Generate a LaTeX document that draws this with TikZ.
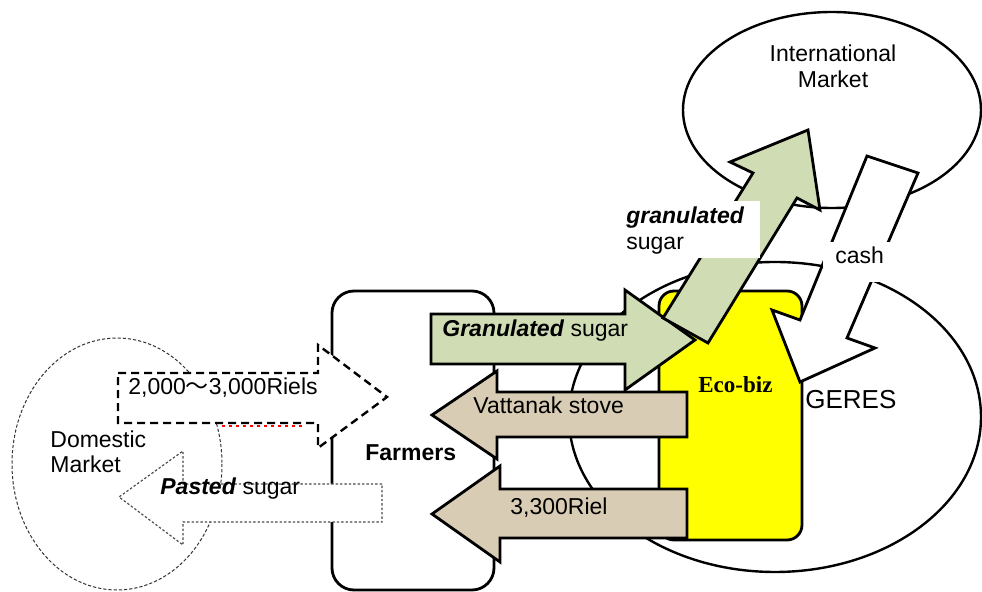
\documentclass[tikz,border=0pt]{standalone}
\usepackage{fontspec}
\setmainfont{Liberation Sans}
\newfontfamily\ecofont{Liberation Serif}
\newfontfamily\cjkfont{Noto Sans CJK SC}
\definecolor{greenfill}{HTML}{CFDCB4}
\definecolor{beigefill}{HTML}{D8CCB4}
\definecolor{ecoyellow}{HTML}{FFFF00}
\begin{document}
\begin{tikzpicture}[x=0.5pt,y=-0.5pt,
  outl/.style={draw=black,line width=1.4pt,line join=miter},
  ell/.style={draw=black,line width=1.2pt,fill=white},
  lbl/.style={inner sep=0pt,font=\fontsize{11.5}{13}\selectfont},
]
\useasboundingbox (0,0) rectangle (982,592);

% Domestic market (dashed ellipse)
\draw[draw=black!80,line width=0.5pt,dash pattern=on 1.6pt off 1pt] (117,464) ellipse [x radius=105, y radius=126];

% Farmers box
\draw[outl,fill=white,rounded corners=11pt] (332,291) rectangle (494,590);

% International market
\draw[ell] (832,110) ellipse [x radius=149, y radius=98];

% GERES
\draw[ell] (775,417) ellipse [x radius=206, y radius=155];

% Eco-biz jar
\draw[outl,fill=ecoyellow,rounded corners=7.5pt] (659,291) rectangle (802,540);

% cash arrow
\draw[outl,fill=white] (867,156) -- (918,173) -- (847,338) -- (875,348) -- (800,382) -- (772,310) -- (800,320) -- cycle;

% Granulated sugar (horizontal)
\draw[outl,fill=greenfill] (431,314) -- (625,314) -- (625,290) -- (695,340) -- (625,390) -- (625,364) -- (431,364) -- cycle;

% granulated sugar (diagonal)
\draw[outl,fill=greenfill] (663,318) -- (753,173) -- (730,162) -- (808,130) -- (820,210) -- (797,198) -- (708,343) -- cycle;

% label boxes
\fill[white] (615,201) rectangle (760,258);
\fill[white] (823,242) rectangle (898,282);

% Vattanak stove arrow
\draw[outl,fill=beigefill] (687,392) -- (497,392) -- (497,371) -- (432,415) -- (497,459) -- (497,437) -- (687,437) -- cycle;

% 3,300Riel arrow
\draw[outl,fill=beigefill] (687,489) -- (500,489) -- (500,466) -- (432,514) -- (500,562) -- (500,538) -- (687,538) -- cycle;

% 2,000-3,000 Riels dashed arrow
\draw[draw=black,fill=white,line width=1.2pt,dash pattern=on 4pt off 2.5pt,line join=miter]
  (118,373) -- (318,373) -- (318,345) -- (387,397) -- (318,448) -- (318,423) -- (118,423) -- cycle;
\draw[red,line width=1pt,dash pattern=on 1.5pt off 2pt] (222,426) -- (302,426);

% Pasted sugar arrow
\draw[draw=black!70,fill=white,line width=0.6pt,dash pattern=on 1.2pt off 1pt,line join=miter]
  (382,484) -- (183,484) -- (183,451) -- (119,497) -- (183,545) -- (183,522) -- (382,522) -- cycle;

% Texts
\node[lbl,anchor=base west] (dom1) at (50,448) {Domestic};
\node[lbl,anchor=base west] (dom2) at (50,473) {Market};
\node[lbl,anchor=base west] (riels) at (128,395) {2,000{\cjkfont ～}3,000Riels};
\node[lbl,anchor=base west] (pasted) at (160,495) {\textbf{\textit{Pasted}} sugar};
\node[lbl,anchor=base west] (farm) at (365,461) {\textbf{Farmers}};
\node[lbl,anchor=base west] (gran) at (442,337) {\textbf{\textit{Granulated}} sugar};
\node[lbl,anchor=base west] (vatt) at (473,414) {Vattanak stove};
\node[lbl,anchor=base west] (riel) at (510,515) {3,300Riel};
\node[inner sep=0pt,anchor=base west,font=\ecofont\bfseries\fontsize{11.5}{13}\selectfont] (eco) at (698,393) {Eco-biz};
\node[inner sep=0pt,anchor=base west,font=\fontsize{13}{15}\selectfont] (geres) at (805,409) {GERES};
\node[lbl,anchor=base] (int1) at (833,62) {International};
\node[lbl,anchor=base] (int2) at (833,88) {Market};
\node[lbl,anchor=base west] (gs1) at (626,224) {\textbf{\textit{granulated}}};
\node[lbl,anchor=base west] (gs2) at (626,250) {sugar};
\node[lbl,anchor=base west] (cash) at (835,264) {cash};
\end{tikzpicture}
\end{document}
